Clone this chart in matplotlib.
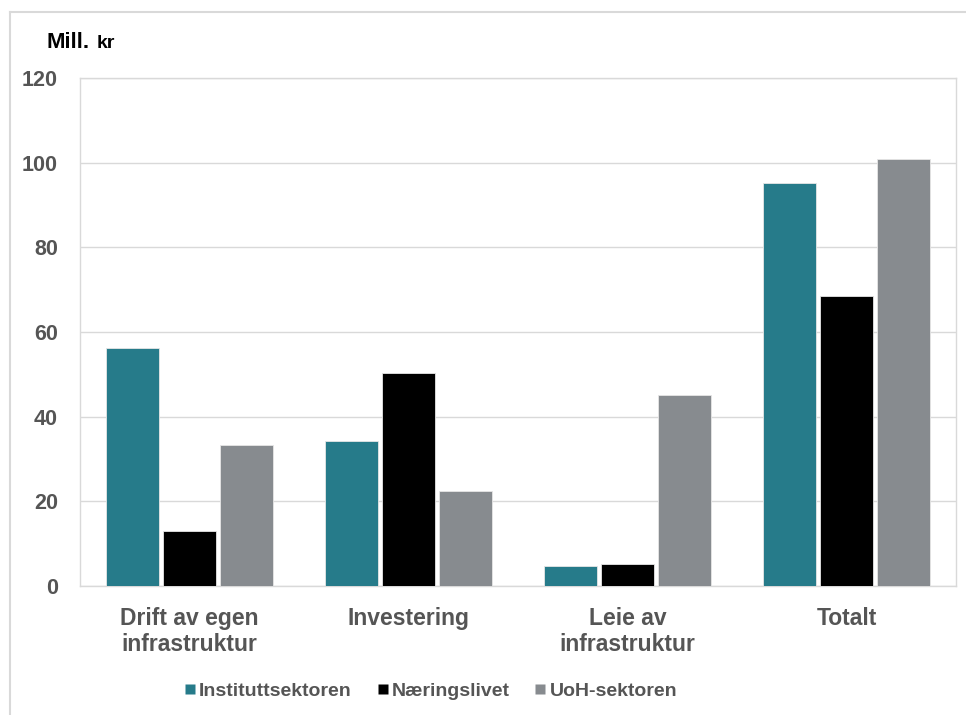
import numpy as np
import matplotlib
matplotlib.use("Agg")
from matplotlib import pyplot as plt
from matplotlib.lines import Line2D

plt.rcParams["font.family"] = ["Liberation Sans", "DejaVu Sans"]
plt.rcParams["font.weight"] = "bold"

categories = ["Drift av egen\ninfrastruktur", "Investering", "Leie av\ninfrastruktur", "Totalt"]
series_names = ["Instituttsektoren", "Næringslivet", "UoH-sektoren"]
institutt = [56.2, 34.3, 4.7, 95.2]
naeringsliv = [13.0, 50.3, 5.2, 68.5]
uoh = [33.3, 22.4, 45.1, 100.8]
y_ticks = [0, 20, 40, 60, 80, 100, 120]

colors = ["#267b8a", "#000000", "#878b8f"]
text_grey = "#555555"
line_grey = "#d9d9d9"

W, H = 966, 715
fig = plt.figure(figsize=(W / 100, H / 100), dpi=100)


def fx(px):
    return px / W


def fy(py):
    return 1 - py / H


ax = fig.add_axes([fx(80), fy(586), fx(956) - fx(80), fy(78) - fy(586)])

x = np.arange(len(categories))
pitch = 0.259
width = 0.243
for i, (vals, col) in enumerate(zip([institutt, naeringsliv, uoh], colors)):
    ax.bar(x + (i - 1) * pitch, vals, width, color=col, edgecolor="#e6e6e6",
           linewidth=0.6, zorder=3, label=series_names[i])

ax.set_xlim(-0.5, len(categories) - 0.5)
ax.set_ylim(0, 120)
ax.set_yticks(y_ticks)
ax.set_xticks(x)
ax.set_xticklabels(categories, linespacing=1.15, fontweight="bold")
ax.set_yticklabels([str(v) for v in y_ticks], fontweight="bold")
ax.tick_params(axis="y", length=0, pad=16, labelsize=15.5, labelcolor=text_grey)
ax.tick_params(axis="x", length=0, pad=15, labelsize=16.5, labelcolor=text_grey)
ax.grid(axis="y", color=line_grey, linewidth=1.0, zorder=0)
for sp in ax.spines.values():
    sp.set_color(line_grey)
    sp.set_linewidth(1.0)

# axis unit label above the y ticks
fig.text(fx(47), fy(48.5), "Mill.", fontsize=16, fontweight="bold", color="black",
         va="baseline", ha="left")
fig.text(fx(97), fy(48.5), "kr", fontsize=14, fontweight="bold", color="black",
         va="baseline", ha="left")

handles = [Line2D([], [], marker="s", linestyle="none", markersize=7.2,
                  markerfacecolor=c, markeredgecolor="none") for c in colors]
leg = fig.legend(handles, series_names, loc="center", bbox_to_anchor=(fx(431), fy(691)),
                 ncol=3, frameon=False, prop={"size": 14, "weight": "bold"},
                 labelcolor=text_grey, handlelength=0.55, handletextpad=0.2,
                 columnspacing=1.3, borderaxespad=0, borderpad=0)

# outer chart frame (left and top edges)
fig.add_artist(Line2D([fx(10), fx(10)], [fy(12), 0], color=line_grey, linewidth=1.5))
fig.add_artist(Line2D([fx(10), 1], [fy(12), fy(12)], color=line_grey, linewidth=1.5))

fig.savefig("out.png", dpi=100, facecolor="white")
